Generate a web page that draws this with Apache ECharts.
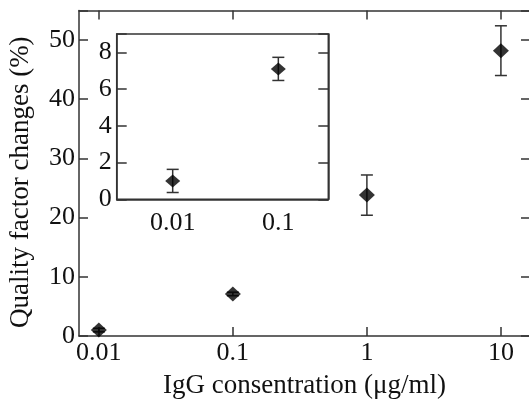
<!DOCTYPE html>
<html>
<head>
<meta charset="utf-8">
<script src="https://cdn.jsdelivr.net/npm/echarts@6/dist/echarts.min.js"></script>
<style>
html,body{margin:0;padding:0;background:#fff;}
#chart{width:529px;height:401px;}
</style>
</head>
<body>
<div id="chart"></div>
<script>
// ---- data ----
const concentrations = [0.01, 0.1, 1, 10];
const qChange = [1.0, 7.1, 23.8, 48.2];
const qError = [0.3, 0.3, 3.4, 4.2];

const insetConcentrations = [0.01, 0.1];
const insetChange = [1.0, 7.1];
const insetError = [0.63, 0.63];

const xTickValues = [0.01, 0.1, 1, 10];
const xTickLabels = ['0.01', '0.1', '1', '10'];
const insetXTickValues = [0.01, 0.1];
const yTickLabels = ['0', '10', '20', '30', '40', '50'];
const insetYTickLabels = ['0', '2', '4', '6', '8'];

const xTitle = 'IgG consentration (\u03bcg/ml)';
const yTitle = 'Quality factor changes (%)';

// ---- helpers ----
const FONT = 'Liberation Serif';
const AX = '#333';
const lg = v => Math.log10(v);
function xLabel(v) {
  for (let i = 0; i < xTickValues.length; i++) {
    if (Math.abs(lg(xTickValues[i]) - v) < 1e-6) return xTickLabels[i];
  }
  return '';
}
function yLabelFrom(list) {
  return function (v) {
    const s = String(Math.round(v * 1000) / 1000);
    return list.indexOf(s) >= 0 ? s : '';
  };
}
const pts = (xs, ys) => xs.map((c, i) => [lg(c), ys[i]]);
const errs = (xs, ys, es) => xs.map((c, i) => [lg(c), ys[i] - es[i], ys[i] + es[i]]);

function errRender(params, api) {
  const x = api.value(0), lo = api.value(1), hi = api.value(2);
  const top = api.coord([x, hi]);
  const bot = api.coord([x, lo]);
  const w = 6;
  const st = { stroke: AX, lineWidth: 1.5 };
  return {
    type: 'group',
    children: [
      { type: 'line', shape: { x1: top[0], y1: top[1], x2: bot[0], y2: bot[1] }, style: st },
      { type: 'line', shape: { x1: top[0] - w, y1: top[1], x2: top[0] + w, y2: top[1] }, style: st },
      { type: 'line', shape: { x1: bot[0] - w, y1: bot[1], x2: bot[0] + w, y2: bot[1] }, style: st }
    ]
  };
}

const labelStyle = { fontFamily: FONT, fontSize: 26, color: '#111' };
const lineStyle = { color: AX, width: 1.5 };
const mainXTicks = xTickValues.map(lg);
const insetXTicks = insetXTickValues.map(lg);

const chart = echarts.init(document.getElementById('chart'), null, { renderer: 'canvas' });
chart.setOption({
  animation: false,
  backgroundColor: '#fff',
  grid: [
    { left: 79, top: 10.4, right: -1, bottom: 65, show: false, outerBoundsMode: 'none', containLabel: false },
    { left: 116.7, top: 34, right: 200.7, bottom: 201.7, show: true, z: 10, outerBoundsMode: 'none', containLabel: false,
      backgroundColor: '#fff', borderColor: AX, borderWidth: 1.5 }
  ],
  xAxis: [
    { type: 'value', gridIndex: 0, position: 'bottom', min: -2.148, max: 1.217,
      splitLine: { show: false }, axisLine: { show: true, onZero: false, lineStyle: lineStyle },
      axisTick: { show: true, inside: true, length: 9, lineStyle: lineStyle, customValues: mainXTicks },
      axisLabel: Object.assign({ margin: 4, formatter: xLabel, customValues: mainXTicks }, labelStyle),
      name: xTitle, nameLocation: 'middle', nameGap: 36,
      nameTextStyle: { fontFamily: FONT, fontSize: 27, color: '#111' } },
    { type: 'value', gridIndex: 0, position: 'top', min: -2.148, max: 1.217,
      splitLine: { show: false }, axisLine: { show: true, onZero: false, lineStyle: lineStyle },
      axisTick: { show: true, inside: true, length: 9, lineStyle: lineStyle, customValues: mainXTicks },
      axisLabel: { show: false } },
    { type: 'value', gridIndex: 1, position: 'bottom', min: -2.53, max: -0.527, z: 11,
      splitLine: { show: false }, axisLine: { show: true, onZero: false, lineStyle: lineStyle },
      axisTick: { show: false },
      axisLabel: Object.assign({ margin: 11, formatter: xLabel, customValues: insetXTicks }, labelStyle) }
  ],
  yAxis: [
    { type: 'value', gridIndex: 0, position: 'left', min: 0, max: 55, interval: 10,
      splitLine: { show: false }, axisLine: { show: true, onZero: false, lineStyle: lineStyle },
      axisTick: { show: true, inside: true, length: 9, lineStyle: lineStyle },
      axisLabel: Object.assign({ margin: 4, formatter: yLabelFrom(yTickLabels) }, labelStyle),
      name: yTitle, nameLocation: 'middle', nameGap: 45,
      nameTextStyle: { fontFamily: FONT, fontSize: 27, color: '#111', padding: [0, 18, 0, 0] } },
    { type: 'value', gridIndex: 0, position: 'right', min: 0, max: 55, interval: 10,
      splitLine: { show: false }, axisLine: { show: true, onZero: false, lineStyle: lineStyle },
      axisTick: { show: true, inside: true, length: 9, lineStyle: lineStyle },
      axisLabel: { show: false } },
    { type: 'value', gridIndex: 1, position: 'left', min: 0, max: 9, interval: 2, z: 11,
      splitLine: { show: false }, axisLine: { show: true, onZero: false, lineStyle: lineStyle },
      axisTick: { show: true, inside: true, length: 10, lineStyle: lineStyle },
      axisLabel: Object.assign({ margin: 5, formatter: yLabelFrom(insetYTickLabels) }, labelStyle) },
    { type: 'value', gridIndex: 1, position: 'right', min: 0, max: 9, interval: 2, z: 11,
      splitLine: { show: false }, axisLine: { show: true, onZero: false, lineStyle: lineStyle },
      axisTick: { show: true, inside: true, length: 10, lineStyle: lineStyle },
      axisLabel: { show: false } }
  ],
  series: [
    { type: 'custom', xAxisIndex: 0, yAxisIndex: 0, z: 2, renderItem: errRender,
      data: errs(concentrations, qChange, qError), silent: true },
    { type: 'scatter', xAxisIndex: 0, yAxisIndex: 0, z: 3, symbol: 'diamond', symbolSize: [16, 15],
      itemStyle: { color: '#000' }, data: pts(concentrations, qChange), silent: true },
    { type: 'custom', xAxisIndex: 2, yAxisIndex: 2, z: 12, renderItem: errRender,
      data: errs(insetConcentrations, insetChange, insetError), silent: true },
    { type: 'scatter', xAxisIndex: 2, yAxisIndex: 2, z: 13, symbol: 'diamond', symbolSize: [15, 13],
      itemStyle: { color: '#000' }, data: pts(insetConcentrations, insetChange), silent: true }
  ]
});
</script>
</body>
</html>
